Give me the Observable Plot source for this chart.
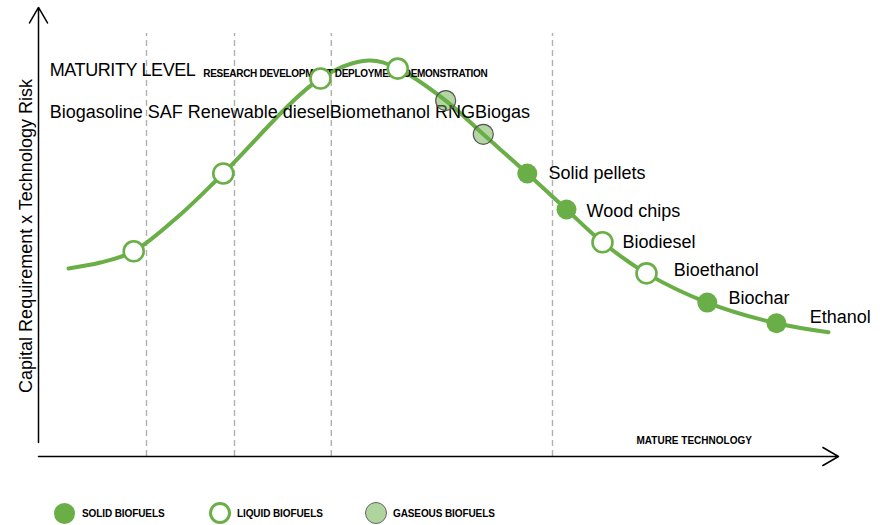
<!DOCTYPE html>
<html>
<head>
<meta charset="utf-8">
<script src="https://cdn.jsdelivr.net/npm/d3@7"></script>
<script src="https://cdn.jsdelivr.net/npm/@observablehq/plot@0.6"></script>
<style>
  html, body { margin: 0; padding: 0; background: #fff; }
  body { width: 886px; height: 525px; overflow: hidden; font-family: "Liberation Sans", Arial, Helvetica, sans-serif; }
  #legend { position: relative; height: 35px; }
  .item { position: absolute; top: 12px; height: 22px; display: flex; align-items: center; }
  .sw { box-sizing: border-box; width: 22px; height: 22px; border-radius: 50%; margin-right: 6px; }
  .lab { font-size: 10px; font-weight: bold; color: #000; letter-spacing: -0.1px; }
</style>
</head>
<body>
<div id="chart"></div>
<div id="legend"></div>
<script>
// ---- data (x: maturity, y: capital requirement x technology risk, arbitrary 0-100 units) ----
const fuelNames = ["Biogasoline", "SAF", "Renewable diesel", "Biomethanol", "RNG", "Biogas",
                   "Solid pellets", "Wood chips", "Biodiesel", "Bioethanol", "Biochar", "Ethanol"];
const fuelTypes = ["liquid", "liquid", "liquid", "liquid", "gaseous", "gaseous",
                   "solid", "solid", "liquid", "liquid", "solid", "solid"];
const maturity = [11.9, 23.1, 35.25, 44.9, 50.9, 55.6, 61.1, 66.0, 70.5, 76.0, 83.6, 92.25];
const risk     = [45.6, 62.9, 84.0, 86.2, 79.1, 71.6, 62.9, 54.9, 47.6, 40.7, 34.2, 29.6];

const curveX = [3.75, 7.75, 11.9, 17.75, 23.1, 35.25, 41.25, 44.9, 50.9, 55.6, 61.1, 66.0, 70.5, 76.0, 83.6, 92.25, 98.75];
const curveY = [41.8, 43.1, 45.6, 53.8, 62.9, 84.0, 88.0, 86.2, 79.1, 71.6, 62.9, 54.9, 47.6, 40.7, 34.2, 29.6, 27.6];

const stageBounds = [13.5, 24.5, 36.6, 64.25];
const stageNames = ["RESEARCH", "DEVELOPMENT", "DEPLOYMENT", "DEMONSTRATION"];

const labelNames = ["Solid pellets", "Wood chips", "Biodiesel", "Bioethanol", "Biochar", "Ethanol"];
const labelX = [63.75, 68.5, 73.0, 79.4, 86.25, 96.4];
const labelY = [62.9, 54.4, 47.6, 41.3, 35.1, 30.9];

const headerTitle = "MATURITY LEVEL";
const headerNames = "Biogasoline SAF Renewable dieselBiomethanol RNGBiogas";
const xTitle = "MATURE TECHNOLOGY";
const yTitle = "Capital Requirement x Technology Risk";

const legendTypes = ["solid", "liquid", "gaseous"];
const legendLabels = ["SOLID BIOFUELS", "LIQUID BIOFUELS", "GASEOUS BIOFUELS"];

// ---- build tables ----
const GREEN = "#6aae47";
const fuels = fuelNames.map((n, i) => ({name: n, type: fuelTypes[i], x: maturity[i], y: risk[i]}));
const curve = curveX.map((x, i) => ({x, y: curveY[i]}));
const labels = labelNames.map((n, i) => ({name: n, x: labelX[i], y: labelY[i]}));

const chart = Plot.plot({
  width: 886,
  height: 490,
  marginLeft: 38,
  marginRight: 48,
  marginTop: 6,
  marginBottom: 34,
  x: {domain: [0, 100], axis: null},
  y: {domain: [0, 100], axis: null},
  style: {fontFamily: "'Liberation Sans', Arial, Helvetica, sans-serif", background: "#fff", color: "#000"},
  marks: [
    Plot.ruleX(stageBounds, {x: d => d, y1: 0, y2: 94, stroke: "#b0b0b0", strokeWidth: 1.4, strokeDasharray: "6,4"}),
    Plot.arrow([{x1: 0, y1: 3.1, x2: 0, y2: 99.8}], {x1: "x1", y1: "y1", x2: "x2", y2: "y2", stroke: "#000", strokeWidth: 1.5, headLength: 18, headAngle: 60}),
    Plot.arrow([{x1: 0, y1: 0, x2: 100, y2: 0}], {x1: "x1", y1: "y1", x2: "x2", y2: "y2", stroke: "#000", strokeWidth: 1.5, headLength: 18, headAngle: 60}),
    Plot.text([yTitle], {x: -1.5, y: 49, text: d => d, rotate: -90, fontSize: 18, fill: "#000"}),
    Plot.text([xTitle], {x: 74.75, y: 3.6, text: d => d, textAnchor: "start", fontSize: 10, fontWeight: "bold", fill: "#000"}),
    Plot.line(curve, {x: "x", y: "y", curve: "catmull-rom", stroke: GREEN, strokeWidth: 4}),
    Plot.text([headerTitle], {x: 1.4, y: 85.8, text: d => d, textAnchor: "start", fontSize: 18, fill: "#000"}),
    Plot.text([stageNames.join(" ")], {x: 20.6, y: 85.1, text: d => d, textAnchor: "start", fontSize: 10, fontWeight: "bold", fill: "#000"}),
    Plot.dot(fuels.filter(d => d.type === "liquid"), {x: "x", y: "y", r: 10, fill: "#fff", stroke: GREEN, strokeWidth: 2.6}),
    Plot.dot(fuels.filter(d => d.type === "solid"), {x: "x", y: "y", r: 10, fill: GREEN}),
    Plot.text([headerNames], {x: 1.4, y: 76.4, text: d => d, textAnchor: "start", fontSize: 18, fill: "#000"}),
    Plot.dot(fuels.filter(d => d.type === "gaseous"), {x: "x", y: "y", r: 10, fill: GREEN, fillOpacity: 0.5, stroke: "#555", strokeWidth: 1.2}),
    Plot.text(labels, {x: "x", y: "y", text: "name", textAnchor: "start", fontSize: 18, fill: "#000"})
  ]
});
document.getElementById("chart").appendChild(chart);
d3.select(chart).selectAll("text").filter(function() { return this.textContent === headerTitle; })
  .attr("letter-spacing", "-0.4");
d3.select(chart).selectAll("text").filter(function() { return this.textContent === stageNames.join(" "); })
  .attr("letter-spacing", "-0.3");

// ---- legend ----
const legend = d3.select("#legend");
legendTypes.forEach((t, i) => {
  const item = legend.append("div").attr("class", "item").style("left", (53 + i * 156) + "px");
  const sw = item.append("div").attr("class", "sw");
  if (t === "solid") sw.style("background", GREEN).style("width", "21px").style("height", "21px").style("margin", "0 7px 0 1px");
  if (t === "liquid") sw.style("background", "#fff").style("border", `3px solid ${GREEN}`);
  if (t === "gaseous") sw.style("background", "#b0d49d").style("border", "1.5px solid #666");
  item.append("span").attr("class", "lab").text(legendLabels[i]);
});
</script>
</body>
</html>
